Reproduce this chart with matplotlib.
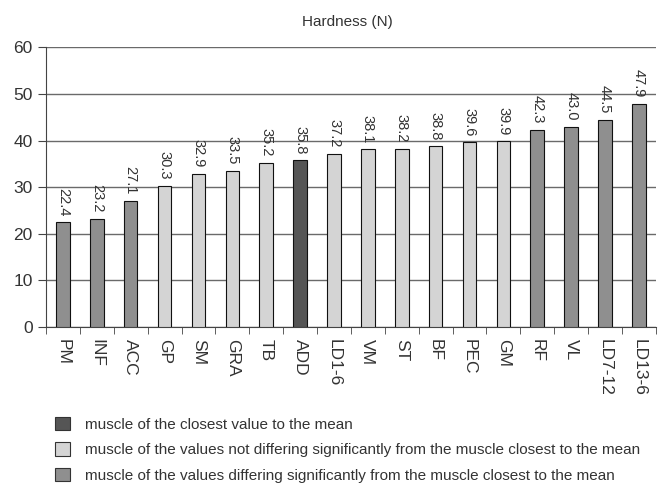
import matplotlib
matplotlib.use('Agg')
import matplotlib.pyplot as plt
from matplotlib.patches import Patch
import numpy as np

plt.rcParams['font.family'] = ['Liberation Sans', 'DejaVu Sans']

muscles = ['PM', 'INF', 'ACC', 'GP', 'SM', 'GRA', 'TB', 'ADD', 'LD1-6', 'VM',
           'ST', 'BF', 'PEC', 'GM', 'RF', 'VL', 'LD7-12', 'LD13-6']
hardness = [22.4, 23.2, 27.1, 30.3, 32.9, 33.5, 35.2, 35.8, 37.2, 38.1,
            38.2, 38.8, 39.6, 39.9, 42.3, 43.0, 44.5, 47.9]
# 0 = closest to mean, 1 = not different, 2 = different
group = [2, 2, 2, 1, 1, 1, 1, 0, 1, 1, 1, 1, 1, 1, 2, 2, 2, 2]

group_colors = ['#555555', '#d4d4d4', '#8f8f8f']
group_labels = ['muscle of the closest value to the mean',
                'muscle of the values not differing significantly from the muscle closest to the mean',
                'muscle of the values differing significantly from the muscle closest to the mean']

fig = plt.figure(figsize=(6.6, 4.84), dpi=100)
ax = fig.add_axes([0.0697, 0.325, 0.924, 0.577])

x = np.arange(len(muscles))
ax.bar(x, hardness, width=0.4, color=[group_colors[g] for g in group],
       edgecolor='#111111', linewidth=0.8, zorder=3)

for xi, v in zip(x, hardness):
    ax.text(xi, v + 1.3, f'{v:.1f}', rotation=270, ha='center', va='bottom',
            fontsize=10.5, color='#333333')

ax.set_xlim(-0.5, len(muscles) - 0.5)
ax.set_ylim(0, 60)
ax.set_yticks(range(0, 61, 10))
ax.tick_params(axis='y', labelsize=12.5, length=6, direction='out',
               labelcolor='#333333', color='#444444')
ax.yaxis.grid(True, color='#6a6a6a', linewidth=1.0, zorder=0)

ax.set_xticks(x)
ax.set_xticklabels(muscles, rotation=270, fontsize=12.5, color='#333333')
ax.tick_params(axis='x', length=0, pad=9)
ax.set_xticks(np.arange(-0.5, len(muscles)), minor=True)
ax.tick_params(axis='x', which='minor', length=5, color='#444444')

for s in ['top', 'right']:
    ax.spines[s].set_visible(False)
ax.spines['left'].set_color('#444444')
ax.spines['bottom'].set_color('#444444')

fig.text(347 / 660, 1 - 22 / 484, 'Hardness (N)', fontsize=11, ha='center', va='center',
         color='#333333')

handles = [Patch(facecolor=c, edgecolor='#333333', linewidth=0.8) for c in group_colors]
fig.legend(handles, group_labels, loc='upper left', bbox_to_anchor=(0.072, 0.155),
           frameon=False, fontsize=11.0, handlelength=0.98, handleheight=0.98,
           handletextpad=0.95, labelspacing=0.7, borderpad=0, labelcolor='#333333')

fig.savefig('out.png', dpi=100)
